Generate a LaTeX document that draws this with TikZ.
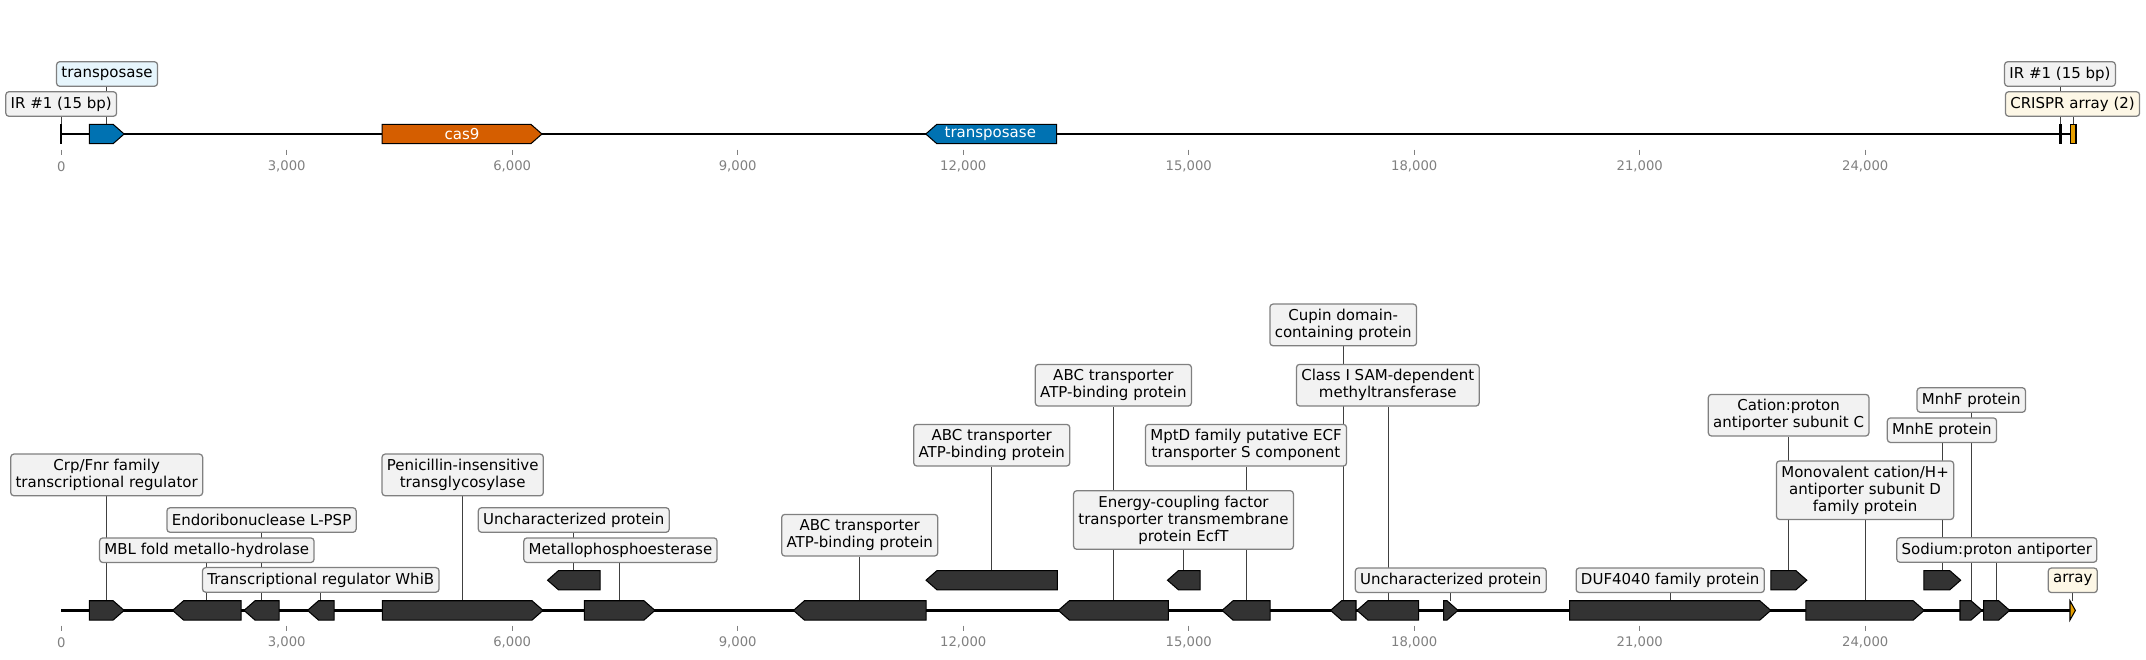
\documentclass[tikz,border=0pt]{standalone}
\usepackage{fontspec}
\setmainfont{DejaVu Sans}
\pgfdeclarelayer{bg}
\pgfsetlayers{bg,main}
\definecolor{genegray}{HTML}{333333}
\definecolor{tblue}{HTML}{0072B2}
\definecolor{casorange}{HTML}{D55E00}
\definecolor{arrorange}{HTML}{E69F00}
\definecolor{labfill}{HTML}{F2F2F2}
\definecolor{labedge}{HTML}{808080}
\definecolor{bluefill}{HTML}{E6F5FC}
\definecolor{yelfill}{HTML}{FDF7E6}
\definecolor{ticktext}{HTML}{808080}
% gene arrow: name, start, end (kbp), y centre (px), direction f/r, style
\newcommand{\gn}[6]{%
  \pgfmathsetmacro\gtl{min(0.146,#3-#2)}%
  \if#5f
    \draw[#6] (#2,#4-9.65) -- ({#3-\gtl},#4-9.65) -- (#3,#4) -- ({#3-\gtl},#4+9.65) -- (#2,#4+9.65) -- cycle;
  \else
    \draw[#6] (#3,#4-9.65) -- ({#2+\gtl},#4-9.65) -- (#2,#4) -- ({#2+\gtl},#4+9.65) -- (#3,#4+9.65) -- cycle;
  \fi
  \coordinate (#1) at ({(#2+#3)/2},#4-9.65);
}
\begin{document}
\begin{tikzpicture}[x=54.122pt,y=-0.72pt,
  backbone/.style={line width=1.6pt,black},
  genebox/.style={draw=black,line width=0.75pt,fill=genegray,line join=miter},
  bluegene/.style={genebox,fill=tblue},
  casgene/.style={genebox,fill=casorange},
  arrgene/.style={genebox,fill=arrorange},
  lab/.style={draw=labedge,fill=labfill,rounded corners=2.3pt,line width=0.9pt,font=\fontsize{10.8}{12.2}\selectfont,align=center,inner xsep=3.5pt,inner ysep=0pt,minimum height=17.7pt},
  labtwo/.style={lab,minimum height=30pt},
  labthree/.style={lab,minimum height=42.2pt},
  bluelab/.style={lab,fill=bluefill},
  yellab/.style={lab,fill=yelfill},
  conn/.style={line width=0.5pt,black!75},
  irbar/.style={line width=1.5pt,black},
  tickmark/.style={line width=0.5pt,ticktext},
  ticklab/.style={text=ticktext,font=\fontsize{9.5}{11}\selectfont,inner sep=0pt},
  geneword/.style={text=white,font=\fontsize{10.8}{12}\selectfont,inner sep=0pt}
]
\useasboundingbox (-0.8142,0) rectangle (27.7345,659);

% ---------------- top track ----------------
\gn{tg1}{0.374}{0.837}{134}{f}{bluegene}
\gn{tg2}{4.270}{6.395}{134}{f}{casgene}
\node[geneword] (tw2) at (5.3325,134) {cas9};
\gn{tg3}{11.502}{13.242}{134}{r}{bluegene}
\node[geneword] (tw3) at (12.36,134) {transposase};
\draw[irbar] (0,124.3) -- (0,143.7);
\coordinate (ir1) at (0,124.3);
\draw[irbar] (26.597,124.3) -- (26.597,143.7);
\coordinate (ir2) at (26.597,124.3);
\draw[arrgene] (26.732,124.3) rectangle (26.803,143.7);
\coordinate (cr1) at (26.7675,124.3);

\node[bluelab] (ltg1) at (0.61,74) {transposase};
\node[lab] (lir1) at (0,104) {IR \#1 (15 bp)};
\node[lab] (lir2) at (26.59,74) {IR \#1 (15 bp)};
\node[yellab] (lcr1) at (26.757,104) {CRISPR array (2)};

% ticks
\foreach \k in {0,3,...,24} {
  \draw[tickmark] (\k,149.5) -- (\k,154.5);
  \node[ticklab] (tt\k) at (\k,166.7) {\ifnum\k=0 0\else\k,000\fi};
  \draw[tickmark] (\k,625.7) -- (\k,630.7);
  \node[ticklab] (bt\k) at (\k,642.2) {\ifnum\k=0 0\else\k,000\fi};
}

% ---------------- bottom track ----------------
\gn{g1}{0.374}{0.837}{610.4}{f}{genebox}
\gn{g2}{1.482}{2.393}{610.4}{r}{genebox}
\gn{g3}{2.432}{2.898}{610.4}{r}{genebox}
\gn{g4}{3.277}{3.630}{610.4}{r}{genebox}
\gn{g5}{4.273}{6.410}{610.4}{f}{genebox}
\gn{g6}{6.470}{7.168}{580.2}{r}{genebox}
\gn{g7}{6.959}{7.899}{610.4}{f}{genebox}
\gn{g8}{9.741}{11.505}{610.4}{r}{genebox}
\gn{g9}{11.505}{13.253}{580.2}{r}{genebox}
\gn{g10}{13.265}{14.729}{610.4}{r}{genebox}
\gn{g11}{14.717}{15.150}{580.2}{r}{genebox}
\gn{g12}{15.443}{16.081}{610.4}{r}{genebox}
\gn{g13}{16.886}{17.225}{610.4}{r}{genebox}
\gn{g14}{17.238}{18.059}{610.4}{r}{genebox}
\gn{g15}{18.390}{18.582}{610.4}{f}{genebox}
\gn{g16}{20.066}{22.743}{610.4}{f}{genebox}
\gn{g17}{22.743}{23.222}{580.2}{f}{genebox}
\gn{g18}{23.210}{24.784}{610.4}{f}{genebox}
\gn{g19}{24.778}{25.269}{580.2}{f}{genebox}
\gn{g20}{25.260}{25.553}{610.4}{f}{genebox}
\gn{g21}{25.574}{25.921}{610.4}{f}{genebox}
\gn{g22}{26.723}{26.795}{610.4}{f}{arrgene}

\node[labtwo] (l1) at (0.605,474.9) {Crp/Fnr family\\transcriptional regulator};
\node[lab] (l2) at (1.937,550.2) {MBL fold metallo-hydrolase};
\node[lab] (l3) at (2.665,520) {Endoribonuclease L-PSP};
\node[lab] (l4) at (3.453,579.9) {Transcriptional regulator WhiB};
\node[labtwo] (l5) at (5.341,474.9) {Penicillin-insensitive\\transglycosylase};
\node[lab] (l6) at (6.819,520) {Uncharacterized protein};
\node[lab] (l7) at (7.44,550.2) {Metallophosphoesterase};
\node[labtwo] (l8) at (10.623,535.2) {ABC transporter\\ATP-binding protein};
\node[labtwo] (l9) at (12.379,445.2) {ABC transporter\\ATP-binding protein};
\node[labtwo] (l10) at (13.997,385.2) {ABC transporter\\ATP-binding protein};
\node[labthree] (l11) at (14.93,520) {Energy-coupling factor\\transporter transmembrane\\protein EcfT};
\node[labtwo] (l12) at (15.762,445.2) {MptD family putative ECF\\transporter S component};
\node[labtwo] (l13) at (17.055,324.9) {Cupin domain-\\containing protein};
\node[labtwo] (l14) at (17.648,385.2) {Class I SAM-dependent\\methyltransferase};
\node[lab] (l15) at (18.486,580.2) {Uncharacterized protein};
\node[lab] (l16) at (21.405,580.2) {DUF4040 family protein};
\node[labtwo] (l17) at (22.98,415.2) {Cation:proton\\antiporter subunit C};
\node[labthree] (l18) at (23.997,490.2) {Monovalent cation/H+\\antiporter subunit D\\family protein};
\node[lab] (l19) at (25.02,430.2) {MnhE protein};
\node[lab] (l20) at (25.41,400) {MnhF protein};
\node[lab] (l21) at (25.75,550) {Sodium:proton antiporter};
\node[yellab] (l22) at (26.76,580.3) {array};

% ---------------- background: backbones and connectors ----------------
\begin{pgfonlayer}{bg}
  \draw[backbone] (0,134) -- (26.77,134);
  \draw[backbone] (0,610.4) -- (26.76,610.4);
  \draw[conn] (tg1) -- (tg1 |- ltg1.south);
  \draw[conn] (ir1) -- (ir1 |- lir1.south);
  \draw[conn] (ir2) -- (ir2 |- lir2.south);
  \draw[conn] (cr1) -- (cr1 |- lcr1.south);
  \foreach \i in {1,...,22} {
    \draw[conn] (g\i) -- (g\i |- l\i.south);
  }
\end{pgfonlayer}
\end{tikzpicture}
\end{document}
